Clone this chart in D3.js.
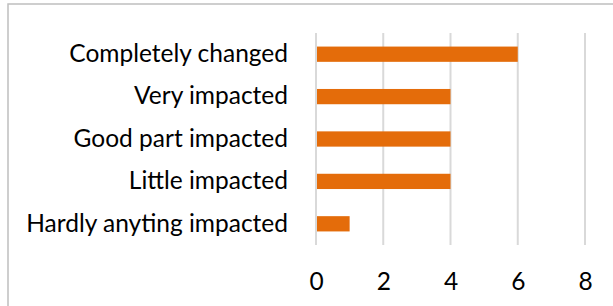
<!DOCTYPE html>
<html>
<head>
<meta charset="utf-8">
<script src="https://cdn.jsdelivr.net/npm/d3@7"></script>
<style>
  body { margin: 0; background: #fff; }
  svg { display: block; }
</style>
</head>
<body>
<div id="chart-area"></div>
<script>
// data
const categories = ["Completely changed", "Very impacted", "Good part impacted", "Little impacted", "Hardly anyting impacted"];
const counts = [6, 4, 4, 4, 1];
const xTicks = [0, 2, 4, 6, 8];

const W = 613, H = 306;
const margin = {top: 33, right: 28, bottom: 61, left: 316};
const width = W - margin.left - margin.right,
  height = H - margin.top - margin.bottom;

const svg = d3.select("#chart-area")
  .append("svg")
  .attr("width", W)
  .attr("height", H);

// chart frame, runs off the right and bottom of the picture
svg.append("rect")
  .attr("x", 8).attr("y", 4)
  .attr("width", W + 10).attr("height", H + 10)
  .attr("fill", "none")
  .attr("stroke", "#bfbfbf")
  .attr("stroke-width", 1.5);

const g = svg.append("g")
  .attr("transform", "translate(" + margin.left + "," + margin.top + ")");

const x = d3.scaleLinear()
  .domain([0, 8])
  .range([0, width]);

const y = d3.scaleBand()
  .domain(categories)
  .range([0, height])
  .paddingInner(0.64)
  .paddingOuter(0.32);

// grid
g.append("g")
  .attr("class", "grid")
  .selectAll("line")
  .data(xTicks)
  .enter().append("line")
  .attr("x1", d => x(d)).attr("x2", d => x(d))
  .attr("y1", 0).attr("y2", height)
  .attr("stroke", "#d9d9d9")
  .attr("stroke-width", 2);

// bars
g.selectAll(".bar")
  .data(counts)
  .enter().append("rect")
  .attr("class", "bar")
  .attr("x", x(0) + 1)
  .attr("y", (d, i) => y(categories[i]))
  .attr("width", d => x(d) - x(0) - 1)
  .attr("height", y.bandwidth())
  .attr("fill", "#e46c0a");

// x axis labels
const x_axis = d3.axisBottom(x)
  .tickValues(xTicks)
  .tickSize(0)
  .tickPadding(28);
const xg = g.append("g")
  .attr("transform", "translate(0," + height + ")")
  .call(x_axis);
xg.select(".domain").remove();
xg.selectAll("text")
  .attr("font-family", "Lato")
  .attr("font-size", "24.5px")
  .attr("fill", "#000");

// category labels
const y_axis = d3.axisLeft(y)
  .tickSize(0)
  .tickPadding(28);
const yg = g.append("g").call(y_axis);
yg.select(".domain").remove();
yg.selectAll("text")
  .attr("font-family", "Lato")
  .attr("font-size", "24.5px")
  .attr("fill", "#000");
</script>
</body>
</html>
